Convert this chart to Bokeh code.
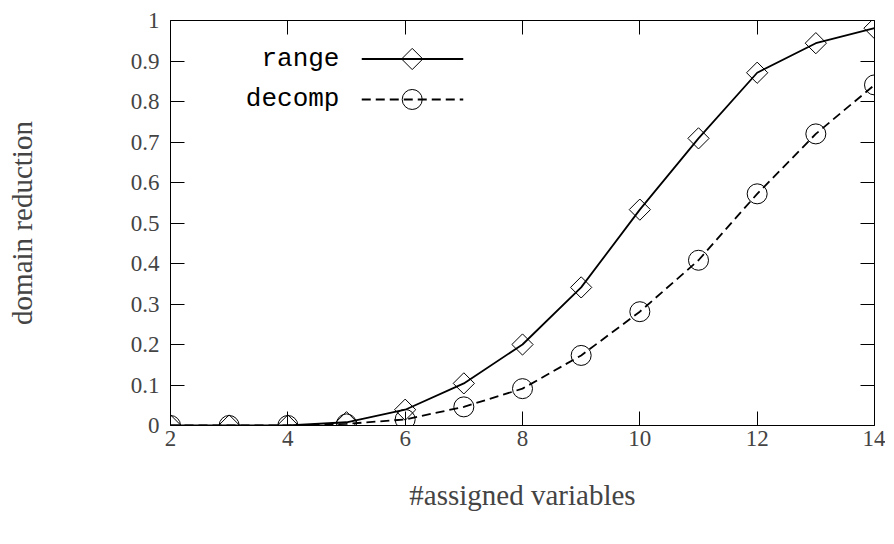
from bokeh.plotting import figure
from bokeh.models import Range1d, LinearAxis, FixedTicker
from bokeh.core.properties import value
from bokeh.embed import file_html
from bokeh.resources import INLINE

# ---- data ----
assigned = [2, 3, 4, 5, 6, 7, 8, 9, 10, 11, 12, 13, 14]
range_red = [0.0, 0.0, 0.0, 0.008, 0.039, 0.104, 0.200, 0.341, 0.533, 0.709, 0.871, 0.944, 0.981]
decomp_red = [0.0, 0.0, 0.0, 0.004, 0.015, 0.046, 0.091, 0.173, 0.281, 0.408, 0.572, 0.720, 0.841]
x_ticks = [2, 4, 6, 8, 10, 12, 14]
y_ticks = [0, 0.1, 0.2, 0.3, 0.4, 0.5, 0.6, 0.7, 0.8, 0.9, 1]
y_tick_labels = {0: "0", 0.1: "0.1", 0.2: "0.2", 0.3: "0.3", 0.4: "0.4", 0.5: "0.5",
                 0.6: "0.6", 0.7: "0.7", 0.8: "0.8", 0.9: "0.9", 1: "1"}
series_names = ["range", "decomp"]

SERIF = "Liberation Serif"
MONO = "Liberation Mono"
TICK_FS = "23px"
LABEL_FS = "29px"

p = figure(width=885, height=535, output_backend="svg", toolbar_location=None,
           x_range=Range1d(2, 14), y_range=Range1d(0, 1),
           min_border_left=170, min_border_right=11, min_border_top=20, min_border_bottom=110)
p.background_fill_color = "white"
p.border_fill_color = "white"
p.outline_line_color = "black"
p.outline_line_width = 1
p.xgrid.visible = False
p.ygrid.visible = False

def style_axis(ax, show_labels):
    ax.axis_line_color = None
    ax.major_tick_in = 14
    ax.major_tick_out = 0
    ax.minor_tick_line_color = None
    ax.major_tick_line_color = "black"
    ax.major_tick_line_width = 1
    if not show_labels:
        ax.major_label_text_font_size = "0px"
        ax.major_label_text_color = None

xa = p.xaxis[0]
xa.ticker = FixedTicker(ticks=x_ticks)
style_axis(xa, True)
xa.major_label_text_font = SERIF
xa.major_label_text_font_size = TICK_FS
xa.major_label_standoff = 5
xa.axis_label = "#assigned variables"
xa.axis_label_text_font = SERIF
xa.axis_label_text_font_size = LABEL_FS
xa.axis_label_text_font_style = "normal"
xa.axis_label_standoff = 30

ya = p.yaxis[0]
ya.ticker = FixedTicker(ticks=y_ticks)
ya.major_label_overrides = y_tick_labels
style_axis(ya, True)
ya.major_label_text_font = SERIF
ya.major_label_text_font_size = TICK_FS
ya.major_label_standoff = 11
ya.axis_label = "domain reduction"
ya.axis_label_text_font = SERIF
ya.axis_label_text_font_size = LABEL_FS
ya.axis_label_text_font_style = "normal"
ya.axis_label_standoff = 90

top = LinearAxis(ticker=FixedTicker(ticks=x_ticks))
style_axis(top, False)
p.add_layout(top, "above")
right = LinearAxis(ticker=FixedTicker(ticks=y_ticks))
style_axis(right, False)
p.add_layout(right, "right")

# ---- series ----
p.line(assigned, range_red, line_color="black", line_width=1.8)
p.scatter(assigned, range_red, marker="square", angle=0.785398, size=15, fill_alpha=0,
          line_color="black", line_width=1)
p.line(assigned, decomp_red, line_color="black", line_width=1.8, line_dash="9 5")
p.scatter(assigned, decomp_red, marker="circle", size=20, fill_alpha=0,
          line_color="black", line_width=1)

# ---- legend (gnuplot style: text left of sample) ----
leg_text_x = 4.88
leg_x0, leg_x1, leg_xm = 5.26, 6.99, 6.12
leg_y = [0.905, 0.805]
p.text(x=[leg_text_x, leg_text_x], y=leg_y, text=series_names,
       text_font=value(MONO), text_font_size="26px", text_align="right",
       text_baseline="middle", text_color="black")
p.line([leg_x0, leg_x1], [leg_y[0], leg_y[0]], line_color="black", line_width=1.8)
p.scatter([leg_xm], [leg_y[0]], marker="square", angle=0.785398, size=15, fill_alpha=0,
          line_color="black", line_width=1)
p.line([leg_x0, leg_x1], [leg_y[1], leg_y[1]], line_color="black", line_width=1.8,
       line_dash="9 5")
p.scatter([leg_xm], [leg_y[1]], marker="circle", size=20, fill_alpha=0,
          line_color="black", line_width=1)

open("out.html", "w").write(file_html(p, INLINE))
